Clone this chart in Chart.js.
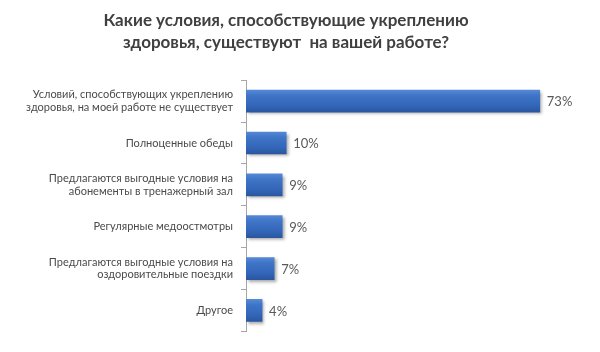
<!DOCTYPE html>
<html>
<head>
<meta charset="utf-8">
<script src="https://cdn.jsdelivr.net/npm/chart.js@4.4.0/dist/chart.umd.min.js"></script>
<style>
html,body{margin:0;padding:0;background:#fff;}
#wrap{width:600px;height:352px;}
</style>
</head>
<body>
<div id="wrap"><canvas id="c" width="600" height="352"></canvas></div>
<script>
const titleLines = ["Какие условия, способствующие укреплению", "здоровья, существуют  на вашей работе?"];
const categories = [
  ["Условий, способствующих укреплению", "здоровья, на моей работе не существует"],
  "Полноценные обеды",
  ["Предлагаются выгодные условия на", "абонементы в тренажерный зал"],
  "Регулярные медоостмотры",
  ["Предлагаются выгодные условия на", "оздоровительные поездки"],
  "Другое"
];
const values = [73, 10, 9, 9, 7, 4];
const valueLabels = ["73%", "10%", "9%", "9%", "7%", "4%"];

const FONT = "Lato, 'Open Sans', sans-serif";
const BAR_T = 22;

const shadowPlugin = {
  id: 'shadow',
  beforeDatasetsDraw(chart) {
    const ctx = chart.ctx;
    ctx.save();
    ctx.shadowColor = 'rgba(0,0,0,0.35)';
    ctx.shadowBlur = 3;
    ctx.shadowOffsetX = 2;
    ctx.shadowOffsetY = 2;
  },
  afterDatasetsDraw(chart) {
    const ctx = chart.ctx;
    ctx.restore();
    const meta = chart.getDatasetMeta(0);
    ctx.save();
    ctx.font = "13px " + FONT;
    ctx.fillStyle = '#595959';
    ctx.textAlign = 'left';
    ctx.textBaseline = 'middle';
    meta.data.forEach((bar, i) => {
      ctx.fillText(valueLabels[i], bar.x + 7, bar.y + 1);
    });
    ctx.restore();
  }
};

new Chart(document.getElementById('c'), {
  type: 'bar',
  data: {
    labels: categories,
    datasets: [{
      data: values,
      barThickness: BAR_T,
      backgroundColor(context) {
        const chart = context.chart;
        const y = chart.scales && chart.scales.y;
        if (!y || context.dataIndex === undefined) return '#3366bb';
        const py = y.getPixelForValue(context.dataIndex);
        if (!isFinite(py)) return '#3366bb';
        const g = chart.ctx.createLinearGradient(0, py - BAR_T / 2, 0, py + BAR_T / 2);
        g.addColorStop(0, '#5588d6');
        g.addColorStop(0.25, '#3f74c6');
        g.addColorStop(0.7, '#3366b9');
        g.addColorStop(1, '#2a569f');
        return g;
      },
      borderWidth: 0
    }]
  },
  options: {
    indexAxis: 'y',
    responsive: false,
    animation: false,
    devicePixelRatio: 1,
    layout: { padding: { left: 0, right: 28, top: 0, bottom: 9 } },
    plugins: {
      legend: { display: false },
      tooltip: { enabled: false },
      title: {
        display: true,
        text: titleLines,
        color: '#404040',
        font: { family: FONT, size: 17, weight: 'bold', lineHeight: 1.3 },
        padding: { top: 9, bottom: 27 }
      }
    },
    scales: {
      x: {
        display: false,
        min: 0,
        max: 81
      },
      y: {
        afterFit(scale) { scale.width = 246; },
        grid: {
          display: true,
          offset: true,
          drawOnChartArea: false,
          drawTicks: true,
          tickLength: 5,
          color: '#a6a6a6'
        },
        border: { display: true, color: '#a6a6a6' },
        ticks: {
          color: '#4a4a4a',
          padding: 8,
          font: { family: FONT, size: 11, lineHeight: 1.15 }
        }
      }
    }
  },
  plugins: [shadowPlugin]
});
</script>
</body>
</html>
